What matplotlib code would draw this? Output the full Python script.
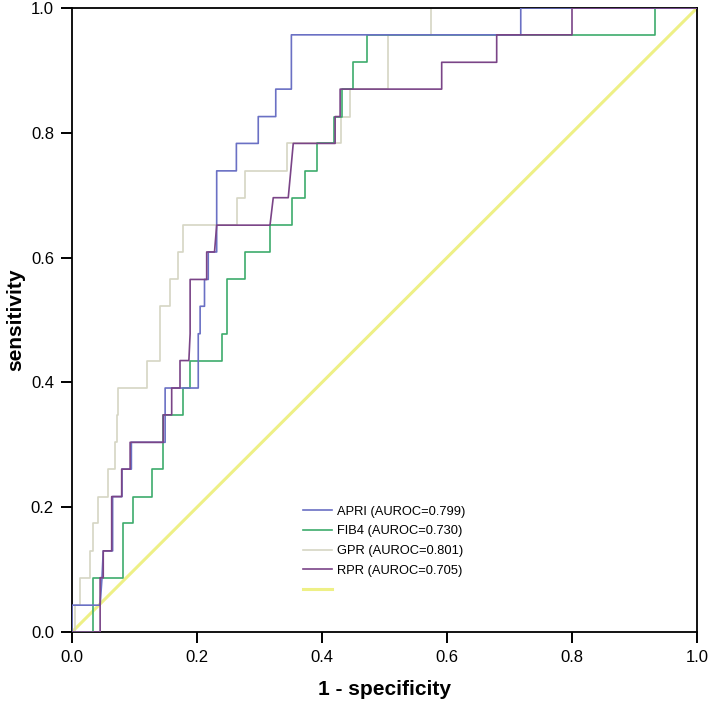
import matplotlib
matplotlib.use('Agg')
import matplotlib.pyplot as plt

plt.rcParams['font.family'] = ['Liberation Sans', 'DejaVu Sans']

#%% ROC corner points (1 - specificity, sensitivity)
apri_fpr = [0, 0, 0.045, 0.048, 0.05, 0.065, 0.065, 0.08, 0.08, 0.095, 0.095, 0.149, 0.149,
            0.202, 0.202, 0.205, 0.205, 0.212, 0.212, 0.218, 0.218, 0.2315, 0.2315, 0.263,
            0.263, 0.298, 0.298, 0.326, 0.326, 0.351, 0.351, 0.718, 0.718, 1.0]
apri_tpr = [0, 0.043, 0.043, 0.087, 0.130, 0.130, 0.217, 0.217, 0.261, 0.261, 0.304, 0.304, 0.391,
            0.391, 0.478, 0.478, 0.522, 0.522, 0.565, 0.565, 0.609, 0.609, 0.739, 0.739,
            0.783, 0.783, 0.826, 0.826, 0.870, 0.870, 0.957, 0.957, 1.0, 1.0]

fib4_fpr = [0, 0.033, 0.033, 0.082, 0.082, 0.098, 0.098, 0.1275, 0.1275, 0.146, 0.146, 0.178,
            0.178, 0.189, 0.189, 0.2395, 0.2395, 0.2475, 0.2475, 0.277, 0.277, 0.3168, 0.3168,
            0.3515, 0.3515, 0.3728, 0.3728, 0.3915, 0.3915, 0.42, 0.42, 0.4315, 0.4315, 0.45,
            0.45, 0.4715, 0.4715, 0.933, 0.933, 1.0]
fib4_tpr = [0, 0, 0.087, 0.087, 0.174, 0.174, 0.217, 0.217, 0.261, 0.261, 0.348, 0.348,
            0.391, 0.391, 0.435, 0.435, 0.478, 0.478, 0.565, 0.565, 0.609, 0.609, 0.652,
            0.652, 0.696, 0.696, 0.739, 0.739, 0.783, 0.783, 0.826, 0.826, 0.870, 0.870,
            0.913, 0.913, 0.957, 0.957, 1.0, 1.0]

gpr_fpr = [0, 0.004, 0.004, 0.0128, 0.0128, 0.029, 0.029, 0.034, 0.034, 0.042, 0.042, 0.058,
           0.058, 0.069, 0.069, 0.0715, 0.0715, 0.074, 0.074, 0.1195, 0.1195, 0.141, 0.141,
           0.157, 0.157, 0.17, 0.17, 0.178, 0.178, 0.2635, 0.2635, 0.277, 0.277, 0.3435,
           0.3435, 0.43, 0.43, 0.445, 0.445, 0.506, 0.506, 0.574, 0.574, 1.0]
gpr_tpr = [0, 0, 0.043, 0.043, 0.087, 0.087, 0.130, 0.130, 0.174, 0.174, 0.217, 0.217,
           0.261, 0.261, 0.304, 0.304, 0.348, 0.348, 0.391, 0.391, 0.435, 0.435, 0.522,
           0.522, 0.565, 0.565, 0.609, 0.609, 0.652, 0.652, 0.696, 0.696, 0.739, 0.739,
           0.783, 0.783, 0.826, 0.826, 0.870, 0.870, 0.957, 0.957, 1.0, 1.0]

rpr_fpr = [0, 0.045, 0.045, 0.05, 0.05, 0.0635, 0.0635, 0.0795, 0.0795, 0.093, 0.093, 0.146,
           0.146, 0.1595, 0.1595, 0.1728, 0.1728, 0.187, 0.189, 0.189, 0.2155, 0.2155, 0.228,
           0.2315, 0.3168, 0.322, 0.346, 0.35, 0.354, 0.421, 0.421, 0.429, 0.429, 0.5915,
           0.5915, 0.6795, 0.6795, 0.80, 0.80, 1.0]
rpr_tpr = [0, 0, 0.087, 0.087, 0.130, 0.130, 0.217, 0.217, 0.261, 0.261, 0.304, 0.304,
           0.348, 0.348, 0.391, 0.391, 0.435, 0.435, 0.478, 0.565, 0.565, 0.609, 0.609,
           0.652, 0.652, 0.696, 0.696, 0.739, 0.783, 0.783, 0.826, 0.826, 0.870, 0.870,
           0.913, 0.913, 0.957, 0.957, 1.0, 1.0]

ref_line = [0, 1]

labels = ['APRI (AUROC=0.799)', 'FIB4 (AUROC=0.730)', 'GPR (AUROC=0.801)', 'RPR (AUROC=0.705)', '']

#%% Plotting
fig = plt.figure(figsize=(7.09, 7.05), dpi=100)
ax = fig.add_axes([72/709, 1 - 632/705, 625/709, 624/705])

ax.plot(ref_line, ref_line, color='#eef086', lw=2.2, zorder=1)
ax.plot(gpr_fpr, gpr_tpr, color='#d6d6c4', lw=1.2, label=labels[2], zorder=2)
ax.plot(fib4_fpr, fib4_tpr, color='#3dab6c', lw=1.2, label=labels[1], zorder=3)
ax.plot(apri_fpr, apri_tpr, color='#6a70c4', lw=1.2, label=labels[0], zorder=4)
ax.plot(rpr_fpr, rpr_tpr, color='#7a4487', lw=1.2, label=labels[3], zorder=5)

h, l = ax.get_legend_handles_labels()
order = [2, 1, 0, 3]
handles = [h[i] for i in order] + [ax.lines[0]]
ax.legend(handles, labels, loc='upper left', bbox_to_anchor=(0.36, 0.213),
          frameon=False, fontsize=9.3, handlelength=2.2, handletextpad=0.4,
          labelspacing=0.6, borderpad=0)

ax.set_xlim(0, 1)
ax.set_ylim(0, 1)
ax.set_xticks([0, 0.2, 0.4, 0.6, 0.8, 1.0])
ax.set_yticks([0, 0.2, 0.4, 0.6, 0.8, 1.0])
ax.set_xticklabels(['0.0', '0.2', '0.4', '0.6', '0.8', '1.0'])
ax.set_yticklabels(['0.0', '0.2', '0.4', '0.6', '0.8', '1.0'])
ax.tick_params(direction='out', length=8, width=1.4, labelsize=12, pad=5)
for s in ax.spines.values():
    s.set_linewidth(1.3)

ax.set_xlabel('1 - specificity', fontsize=15, fontweight='bold', labelpad=11)
ax.set_ylabel('sensitivity', fontsize=15, fontweight='bold', labelpad=4)

fig.savefig('out.png', dpi=100)
